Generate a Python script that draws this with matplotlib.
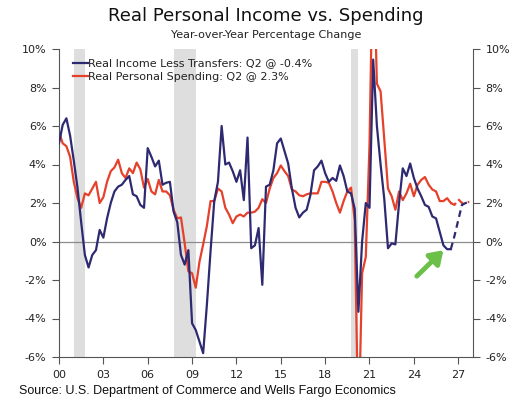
import numpy as np
import matplotlib.pyplot as plt

# quarterly y/y % change, 2000Q1 onwards
INCOME = [
    5.1, 6.06, 6.4, 5.5,
    4.2, 2.8, 1.0, -0.7,
    -1.35, -0.7, -0.45, 0.6,
    0.2, 1.2, 2.0, 2.6,
    2.85, 2.95, 3.2, 3.4,
    2.45, 2.35, 1.9, 1.75,
    4.85, 4.4, 3.9, 4.2,
    2.95, 3.05, 3.1, 1.55,
    1.0, -0.7, -1.2, -0.45,
    -4.25, -4.6, -5.2, -5.8,
    -3.3, -0.5, 2.1, 3.1,
    6.0, 4.0, 4.1, 3.65,
    3.1, 3.7, 2.15, 5.4,
    -0.35, -0.2, 0.7, -2.25,
    2.85, 2.95, 3.7, 5.1,
    5.35, 4.7, 4.05, 2.75,
    1.75, 1.25, 1.5, 1.65,
    2.4, 3.7, 3.9, 4.2,
    3.55, 3.1, 3.3, 3.15,
    3.95, 3.4, 2.6, 2.5,
    1.7, -3.65, 0.0, 2.0,
    1.75, 9.45, 6.0, 4.0,
    2.2, -0.35, -0.1, -0.15,
    2.0, 3.8, 3.4, 4.05,
    3.3, 2.75, 2.35, 1.9,
    1.8, 1.3, 1.2, 0.5,
    -0.2, -0.4, -0.4,
]
INCOME_FCST = [0.3, 1.1, 1.9, 2.0, 2.05]

SPENDING = [
    5.7, 5.1, 4.95, 4.4,
    3.1, 2.25, 1.75, 2.5,
    2.4, 2.75, 3.1, 2.0,
    2.3, 3.1, 3.65, 3.85,
    4.25, 3.55, 3.3, 3.8,
    3.55, 4.1, 3.75, 2.8,
    3.25, 2.6, 2.45, 3.2,
    2.6, 2.6, 2.4, 1.65,
    1.2, 1.25, -0.1, -1.55,
    -1.65, -2.4, -1.05, -0.15,
    0.8, 2.1, 2.1, 2.75,
    2.6, 1.75, 1.4, 0.95,
    1.3, 1.4, 1.3, 1.5,
    1.5, 1.55, 1.75, 2.2,
    2.0, 2.75, 3.3, 3.55,
    3.95, 3.65, 3.4, 2.7,
    2.6, 2.4, 2.35, 2.45,
    2.5, 2.5, 2.5, 3.1,
    3.1, 3.05, 2.6, 2.0,
    1.5, 2.1, 2.6, 2.8,
    1.1, -10.2, -1.65, -0.8,
    5.0, 16.0, 8.2, 7.8,
    5.3, 2.75, 2.35, 1.65,
    2.6, 2.15, 2.5, 3.0,
    2.35, 2.95, 3.2, 3.35,
    2.95, 2.7, 2.6, 2.1,
    2.1, 2.25, 2.0,
]
SPENDING_FCST = [1.9, 2.2, 2.0, 2.05, 2.05]

RECESSIONS = [(2001.0, 2001.75), (2007.75, 2009.25), (2019.75, 2020.25)]
START_YEAR = 2000
YTICKS = [10, 8, 6, 4, 2, 0, -2, -4, -6]
XTICKS = list(range(2000, 2028, 3))

BLUE = '#2d2a72'
RED = '#e5412b'

plt.rcParams['font.family'] = ['DejaVu Sans']


def quarters(n, offset=0):
    return START_YEAR + (np.arange(n) + offset) / 4.0


def main():
    fig = plt.figure(figsize=(5.32, 4.09), dpi=100)
    ax = fig.add_axes([59 / 532, 52 / 409, 414 / 532, 308 / 409])

    for a, b in RECESSIONS:
        ax.axvspan(a, b, color='#dedede', lw=0, zorder=0)
    ax.axhline(0, color='#8c8c8c', lw=0.9, zorder=1)

    n = len(INCOME)
    ax.plot(quarters(n), INCOME, color=BLUE, lw=1.6, zorder=3,
            label='Real Income Less Transfers: Q2 @ -0.4%')
    ax.plot(quarters(len(INCOME_FCST) + 1, n - 1), [INCOME[-1]] + INCOME_FCST,
            color=BLUE, lw=1.6, ls=(0, (3, 2)), zorder=3)

    m = len(SPENDING)
    ax.plot(quarters(m), SPENDING, color=RED, lw=1.6, zorder=2,
            label='Real Personal Spending: Q2 @ 2.3%')
    ax.plot(quarters(len(SPENDING_FCST) + 1, m - 1),
            [SPENDING[-1]] + SPENDING_FCST, color=RED, lw=1.6,
            ls=(0, (3, 2)), zorder=2)

    # green pointer to the latest reading
    ax.annotate('', xy=(2026.0, -0.45), xytext=(2024.2, -1.8),
                arrowprops=dict(arrowstyle='-|>,head_length=0.75,head_width=0.5',
                                color='#6cc04a', lw=3.5, shrinkA=0, shrinkB=0),
                zorder=4)

    ax.set_xlim(2000, 2028)
    ax.set_ylim(-6, 10)
    ax.set_xticks(XTICKS)
    ax.set_xticklabels(['%02d' % (y % 100) for y in XTICKS])
    ax.set_yticks(YTICKS)
    ax.set_yticklabels(['%d%%' % v for v in YTICKS])
    ax.yaxis.set_ticks_position('both')
    ax.tick_params(axis='both', direction='out', length=5, width=0.8,
                   color='#555555', labelsize=8, labelcolor='#222222', pad=4)
    ax.tick_params(axis='y', labelright=True)
    ax.spines['top'].set_visible(False)
    for s in ['left', 'right', 'bottom']:
        ax.spines[s].set_color('#555555')
        ax.spines[s].set_linewidth(0.8)

    leg = ax.legend(loc='upper left', frameon=False, fontsize=8,
                    handlelength=1.3, handletextpad=0.05, labelspacing=0.35,
                    borderaxespad=0.45, bbox_to_anchor=(0.012, 1.0))
    for t in leg.get_texts():
        t.set_color('#222222')

    fig.text(0.5, 1 - 16 / 409, 'Real Personal Income vs. Spending',
             ha='center', va='center', fontsize=13, color='#111111')
    fig.text(0.5, 1 - 35 / 409, 'Year-over-Year Percentage Change',
             ha='center', va='center', fontsize=8, color='#222222')
    fig.text(19 / 532, 1 - 391 / 409,
             'Source: U.S. Department of Commerce and Wells Fargo Economics',
             ha='left', va='center', fontsize=9, color='#111111',
             family='Liberation Sans')

    fig.savefig('out.png', dpi=100)


if __name__ == '__main__':
    main()
